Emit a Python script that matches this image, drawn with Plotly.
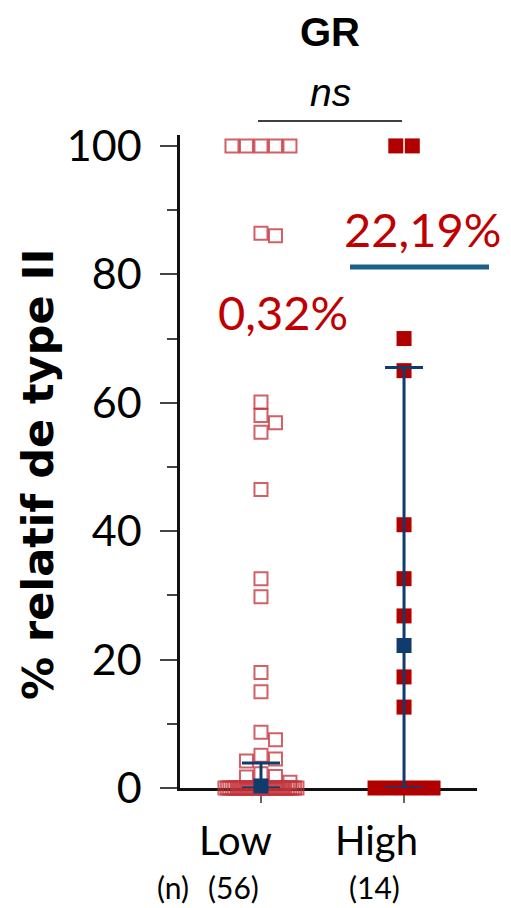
import numpy as np
import plotly.graph_objects as go

# ---- data -------------------------------------------------------------
groups = ["Low", "High"]
group_pos = [1, 2]

low_values = [100, 100, 100, 100, 100, 86.4, 86.0, 60.1, 58.0, 56.9, 55.4,
              46.5, 32.6, 29.8, 18.0, 15.0, 8.7, 7.5, 5.1, 4.5, 4.2, 2.2,
              1.8, 1.7, 0.9,
              0, 0, 0, 0, 0, 0, 0, 0, 0, 0, 0, 0, 0, 0, 0, 0,
              0, 0, 0, 0, 0, 0, 0, 0, 0, 0, 0, 0, 0, 0, 0]
high_values = [100, 100, 70.0, 65.0, 41.0, 32.6, 26.8, 17.3, 12.6,
               0, 0, 0, 0, 0]

medians = [0.32, 22.19]
ci_lower = [0.0, 0.0]
ci_upper = [3.9, 65.5]

y_ticks = [0, 20, 40, 60, 80, 100]
y_title = "% relatif de type II"
panel_title = "GR"
stat_label = "ns"

# ---- page geometry ----------------------------------------------------
W, H = 511, 908
ML, MR, MT, MB = 180, 34, 135, 120
PW, PH = W - ML - MR, H - MT - MB
Y_RANGE = [0, 101.7]
X_RANGE = [0.434, 2.51]
PPU_Y = PH / (Y_RANGE[1] - Y_RANGE[0])
PPU_X = PW / (X_RANGE[1] - X_RANGE[0])

RED_OPEN = "rgba(196,52,60,0.78)"
RED_FILL = "#b00000"
NAVY = "#0f3c6c"
LABEL_RED = "#c00000"
LINE_BLUE = "#1a6087"


def px(x):
    return (x - ML) / PW


def py(y):
    return (H - MB - y) / PH


def swarm(values, center, step=14.5, gap=12.0, max_width=72.0):
    """Horizontal offsets for a dot column: tied values form a centred row
    (compressed when it would grow too wide), other points are nudged
    sideways until they stop overlapping their neighbours."""
    vals = np.asarray(values, float)
    xs = np.full(len(vals), float(center))
    uniq, counts = np.unique(vals, return_counts=True)
    n_of = dict(zip(uniq, counts))
    for v, n in n_of.items():
        if n > 1:
            idx = np.where(vals == v)[0]
            sp = min(step, max_width / (n - 1))
            xs[idx] = center + (np.arange(n) - (n - 1) / 2) * sp / PPU_X
    placed = []
    for i in np.argsort(-vals, kind="stable"):
        if n_of[vals[i]] > 1:
            continue
        y = vals[i] * PPU_Y
        for k in [0, 1, -1, 2, -2, 3, -3, 4, -4]:
            dx = k * step
            if all(abs(dx - ox) >= gap or abs(y - oy) >= gap for ox, oy in placed):
                break
        placed.append((dx, y))
        xs[i] = center + dx / PPU_X
    return xs


fig = go.Figure()

fig.add_trace(go.Scatter(
    x=swarm(low_values, group_pos[0], step=14.5, max_width=72),
    y=low_values, mode="markers",
    marker=dict(symbol="square-open", size=13, color=RED_OPEN,
                line=dict(width=2, color=RED_OPEN)),
    cliponaxis=False, showlegend=False, hoverinfo="y",
))
fig.add_trace(go.Scatter(
    x=swarm(high_values, group_pos[1], step=16.5, max_width=58),
    y=high_values, mode="markers",
    marker=dict(symbol="square", size=15, color=RED_FILL, line=dict(width=0)),
    cliponaxis=False, showlegend=False, hoverinfo="y",
))

# medians with their intervals
fig.add_trace(go.Scatter(
    x=group_pos, y=medians, mode="markers",
    marker=dict(symbol="square", size=15, color=NAVY, line=dict(width=0)),
    error_y=dict(type="data", symmetric=False,
                 array=[u - m for u, m in zip(ci_upper, medians)],
                 arrayminus=[m - l for l, m in zip(ci_lower, medians)],
                 color=NAVY, thickness=3, width=19),
    cliponaxis=False, showlegend=False, hoverinfo="y",
))

annotations = []
# median values written above each column
label_xy = [(283, 312), (422, 229)]
for m, (lx, ly) in zip(medians, label_xy):
    annotations.append(dict(
        x=px(lx), y=py(ly), xref="paper", yref="paper",
        text=f"{m:.2f}".replace(".", ",") + "%", showarrow=False,
        xanchor="center", yanchor="middle",
        font=dict(family="Lato", size=47, color=LABEL_RED)))

# group names and counts under the axis
name_x = [235, 376]
for name, vals, nx in zip(groups, [low_values, high_values], name_x):
    annotations.append(dict(
        x=px(nx), y=py(840), xref="paper", yref="paper", text=name,
        showarrow=False, xanchor="center", yanchor="middle",
        font=dict(family="Lato", size=40, color="black")))
    annotations.append(dict(
        x=px(nx - 2), y=py(887), xref="paper", yref="paper",
        text=f"({len(vals)})", showarrow=False, xanchor="center",
        yanchor="middle", font=dict(family="Lato", size=30, color="black")))
annotations.append(dict(
    x=px(173), y=py(887), xref="paper", yref="paper", text="(n)",
    showarrow=False, xanchor="center", yanchor="middle",
    font=dict(family="Lato", size=30, color="black")))

# panel title and significance
annotations.append(dict(
    x=px(330), y=py(32), xref="paper", yref="paper", text=f"<b>{panel_title}</b>",
    showarrow=False, xanchor="center", yanchor="middle",
    font=dict(family="Liberation Sans", size=40, color="black")))
annotations.append(dict(
    x=px(330), y=py(92), xref="paper", yref="paper", text=f"<i>{stat_label}</i>",
    showarrow=False, xanchor="center", yanchor="middle",
    font=dict(family="Liberation Sans", size=39, color="black")))

# rotated y title
annotations.append(dict(
    x=px(38), y=py(474), xref="paper", yref="paper", text=f"<b>{y_title}</b>",
    textangle=-90, showarrow=False, xanchor="center", yanchor="middle",
    font=dict(family="DejaVu Sans", size=43, color="black")))

shapes = [
    dict(type="line", xref="paper", yref="paper",
         x0=px(258), x1=px(402), y0=py(121), y1=py(121),
         line=dict(color="black", width=1.6)),
    dict(type="line", xref="paper", yref="paper",
         x0=px(350), x1=px(489), y0=py(267), y1=py(267),
         line=dict(color=LINE_BLUE, width=5)),
]

fig.update_layout(
    width=W, height=H,
    margin=dict(l=ML, r=MR, t=MT, b=MB, pad=0),
    paper_bgcolor="white", plot_bgcolor="white",
    showlegend=False,
    annotations=annotations, shapes=shapes,
    xaxis=dict(range=X_RANGE, showgrid=False, zeroline=False,
               showline=True, linecolor="#111111", linewidth=2.5,
               tickvals=group_pos, ticktext=["", ""], showticklabels=False,
               ticks="outside", ticklen=12, tickwidth=2, tickcolor="#666666",
               layer="below traces", fixedrange=True),
    yaxis=dict(range=Y_RANGE, showgrid=False, zeroline=False,
               showline=True, linecolor="#111111", linewidth=2.5,
               tickvals=y_ticks, ticks="outside", ticklen=17, tickwidth=2,
               tickcolor="#444444",
               minor=dict(dtick=10, tick0=0, ticks="outside", ticklen=10,
                          tickwidth=2, tickcolor="#444444"),
               tickfont=dict(family="Lato", size=43, color="black"),
               ticklabelstandoff=10,
               layer="below traces", fixedrange=True),
)

fig.write_html("out.html")
